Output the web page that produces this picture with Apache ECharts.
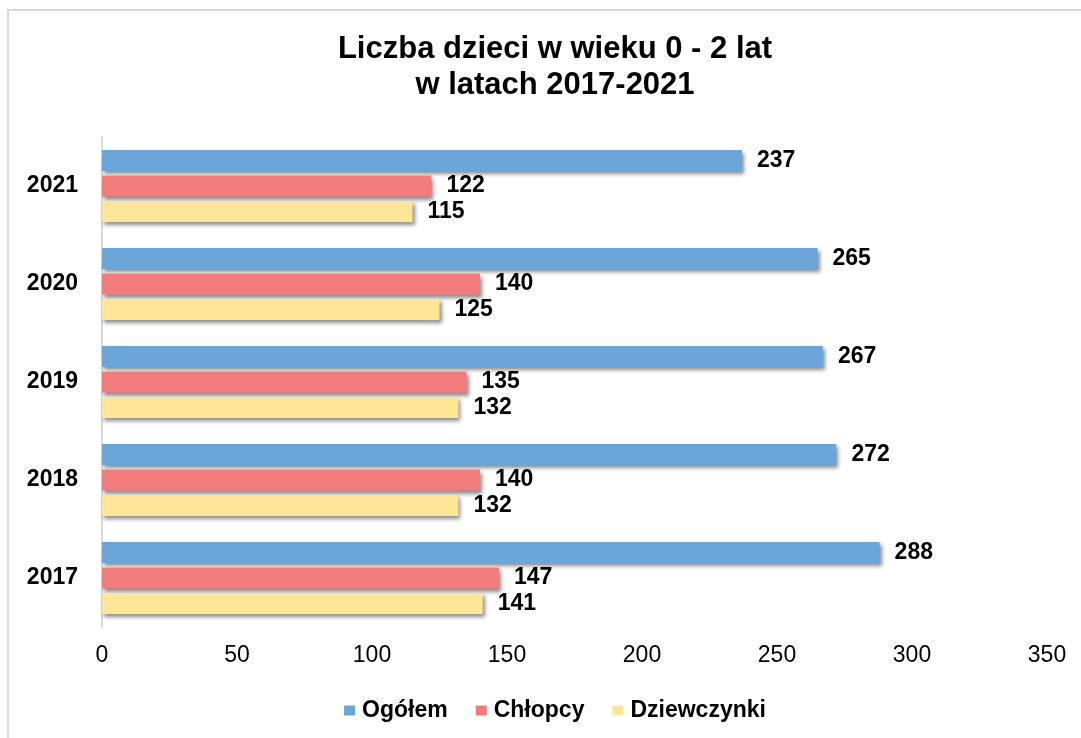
<!DOCTYPE html>
<html>
<head>
<meta charset="utf-8">
<script src="https://cdn.jsdelivr.net/npm/echarts@6/dist/echarts.min.js"></script>
<style>
    html, body { margin: 0; padding: 0; overflow: hidden; background: #fff; }
    #chart { width: 1110px; height: 738px; }
</style>
</head>
<body>
<div id="chart"></div>
<script>
    var years = ['2017', '2018', '2019', '2020', '2021'];
    var ogolem = [288, 272, 267, 265, 237];
    var chlopcy = [147, 140, 135, 140, 122];
    var dziewczynki = [141, 132, 132, 125, 115];
    var xTicks = [0, 50, 100, 150, 200, 250, 300, 350];

    var font = '"Liberation Sans", Arial, sans-serif';
    var shadow = {
        shadowColor: 'rgba(0, 0, 0, 0.45)',
        shadowBlur: 4,
        shadowOffsetX: 2,
        shadowOffsetY: 3
    };

    var build_bar = function (name, data, color) {
        return {
            name: name,
            type: 'bar',
            data: data,
            barWidth: 21,
            barGap: '22%',
            itemStyle: Object.assign({color: color}, shadow),
            label: {
                show: true,
                position: 'right',
                distance: 15,
                color: '#000',
                fontFamily: font,
                fontWeight: 'bold',
                fontSize: 23
            },
            emphasis: {disabled: true}
        };
    };

    var myChart = echarts.init(document.getElementById('chart'), null, {renderer: 'canvas'});
    var option = {
        animation: false,
        textStyle: {fontFamily: font},
        graphic: [{
            type: 'rect',
            shape: {x: 8, y: 10, width: 1200, height: 800},
            style: {fill: 'none', stroke: '#d9d9d9', lineWidth: 2},
            silent: true
        }],
        title: {
            text: 'Liczba dzieci w wieku 0 - 2 lat\nw latach 2017-2021',
            left: 'center',
            top: 31,
            padding: 0,
            textStyle: {
                fontFamily: font,
                fontWeight: 'bold',
                fontSize: 31,
                lineHeight: 36,
                color: '#000'
            }
        },
        legend: {
            data: ['Ogółem', 'Chłopcy', 'Dziewczynki'],
            left: 'center',
            top: 694,
            itemWidth: 11,
            itemHeight: 10,
            itemGap: 28,
            icon: 'rect',
            textStyle: {
                fontFamily: font,
                fontWeight: 'bold',
                fontSize: 23,
                color: '#000',
                padding: [0, 0, 0, 2]
            }
        },
        grid: {
            left: 102,
            right: 63,
            top: 137,
            bottom: 111,
            containLabel: false
        },
        xAxis: {
            type: 'value',
            min: xTicks[0],
            max: xTicks[xTicks.length - 1],
            interval: 50,
            axisLine: {show: false},
            axisTick: {show: false},
            splitLine: {show: false},
            axisLabel: {
                margin: 17,
                fontFamily: font,
                fontSize: 23,
                color: '#000'
            }
        },
        yAxis: {
            type: 'category',
            data: years,
            axisLine: {show: true, lineStyle: {color: '#d9d9d9', width: 2}},
            axisTick: {show: false},
            axisLabel: {
                margin: 24,
                fontFamily: font,
                fontWeight: 'bold',
                fontSize: 23,
                color: '#000'
            }
        },
        series: [
            build_bar('Ogółem', ogolem, '#6BA5D9'),
            build_bar('Chłopcy', chlopcy, '#F27C7B'),
            build_bar('Dziewczynki', dziewczynki, '#FFE598')
        ]
    };
    myChart.setOption(option);
</script>
</body>
</html>
